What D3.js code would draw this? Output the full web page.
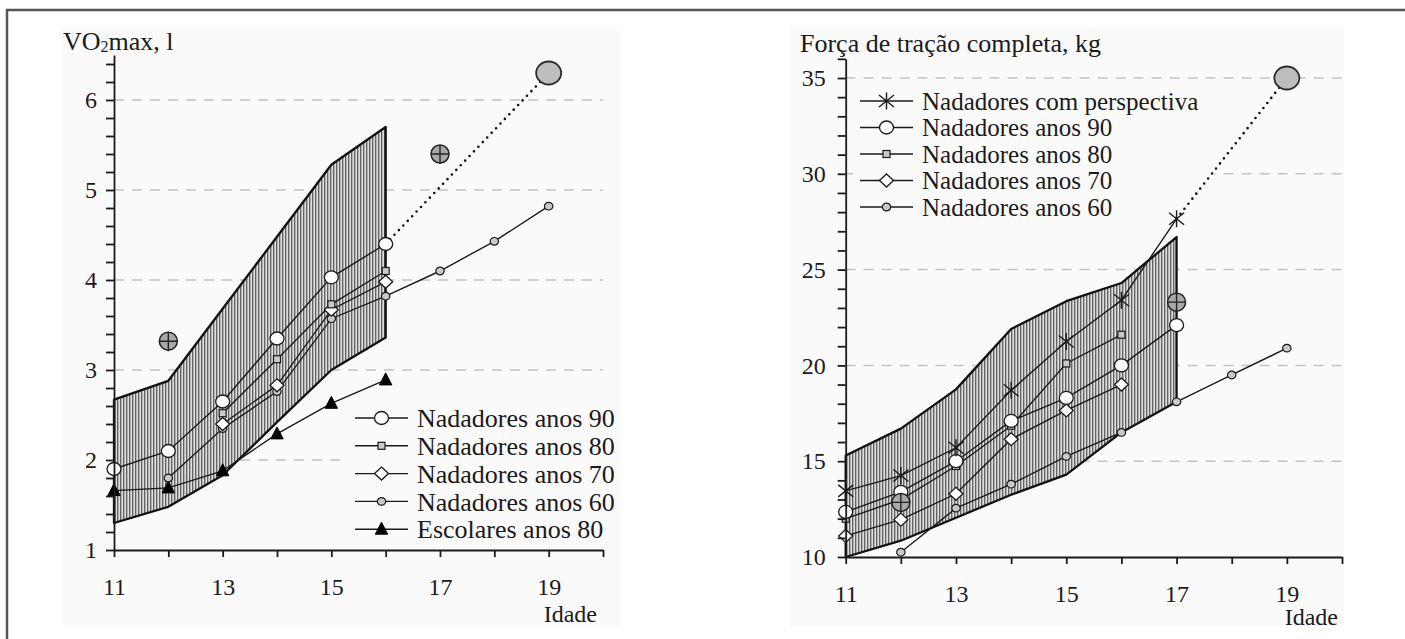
<!DOCTYPE html>
<html>
<head>
<meta charset="utf-8">
<script src="https://cdn.jsdelivr.net/npm/d3@7"></script>
<style>
  body { margin: 0; background: #fff; }
  text { font-family: 'Liberation Serif', 'Times New Roman', serif; fill: #1a1a1a; }
</style>
</head>
<body>
<svg id="chart" width="1405" height="639"></svg>
<script>
// ---- shared ----
const xTicks = [11, 12, 13, 14, 15, 16, 17, 18, 19, 20];
const xTickLabels = [11, 13, 15, 17, 19];

// ---- VO2max panel ----
const vo2TickLabels = [1, 2, 3, 4, 5, 6];
const vo2BandAges = [11, 12, 13, 14, 15, 16];
const vo2BandUpper = [2.67, 2.88, 3.68, 4.48, 5.28, 5.7];
const vo2BandLower = [1.3, 1.48, 1.83, 2.42, 3.0, 3.36];
const vo2Ages90 = [11, 12, 13, 14, 15, 16];
const vo2Nad90 = [1.9, 2.1, 2.65, 3.35, 4.03, 4.4];
const vo2Ages80 = [13, 14, 15, 16];
const vo2Nad80 = [2.52, 3.12, 3.73, 4.1];
const vo2Ages70 = [13, 14, 15, 16];
const vo2Nad70 = [2.4, 2.83, 3.67, 3.98];
const vo2Ages60 = [12, 13, 14, 15, 16, 17, 18, 19];
const vo2Nad60 = [1.8, 2.35, 2.76, 3.57, 3.82, 4.1, 4.43, 4.82];
const vo2AgesEsc = [11, 12, 13, 14, 15, 16];
const vo2Esc80 = [1.66, 1.69, 1.88, 2.29, 2.63, 2.89];
const vo2TargetAges = [16, 19];
const vo2Target = [4.4, 6.3];
const vo2CrossAges = [12, 17];
const vo2Cross = [3.32, 5.4];
const vo2Legend = ['Nadadores anos 90', 'Nadadores anos 80', 'Nadadores anos 70', 'Nadadores anos 60', 'Escolares anos 80'];

// ---- pulling force panel ----
const forceTickLabels = [10, 15, 20, 25, 30, 35];
const forceBandAges = [11, 12, 13, 14, 15, 16, 17];
const forceBandUpper = [15.3, 16.7, 18.75, 21.9, 23.35, 24.3, 26.7];
const forceBandLower = [10.0, 10.85, 12.05, 13.25, 14.3, 16.5, 18.1];
const forceAgesPersp = [11, 12, 13, 14, 15, 16, 17];
const forcePersp = [13.45, 14.25, 15.7, 18.7, 21.25, 23.4, 27.65];
const forceAges90 = [11, 12, 13, 14, 15, 16, 17];
const forceNad90 = [12.35, 13.4, 15.0, 17.1, 18.3, 20.0, 22.1];
const forceAges80 = [11, 12, 13, 14, 15, 16];
const forceNad80 = [12.0, 13.0, 14.75, 16.85, 20.1, 21.6];
const forceAges70 = [11, 12, 13, 14, 15, 16];
const forceNad70 = [11.1, 11.95, 13.3, 16.15, 17.65, 19.0];
const forceAges60 = [12, 13, 14, 15, 16, 17, 18, 19];
const forceNad60 = [10.25, 12.55, 13.8, 15.25, 16.5, 18.1, 19.5, 20.9];
const forceTargetAges = [17, 19];
const forceTarget = [27.65, 35.0];
const forceCrossAges = [12, 17];
const forceCross = [12.85, 23.3];
const forceLegend = ['Nadadores com perspectiva', 'Nadadores anos 90', 'Nadadores anos 80', 'Nadadores anos 70', 'Nadadores anos 60'];

const ink = '#1a1a1a';
const plotBg = '#fafafa';

const svg = d3.select('#chart');

// vertical hatch for the range band
const defs = svg.append('defs');
const hatch = defs.append('pattern')
  .attr('id', 'hatch')
  .attr('width', 3)
  .attr('height', 6)
  .attr('patternUnits', 'userSpaceOnUse');
hatch.append('rect').attr('width', 3).attr('height', 6).attr('fill', '#dedede');
hatch.append('line')
  .attr('x1', 0.7).attr('x2', 0.7).attr('y1', 0).attr('y2', 6)
  .attr('stroke', '#5e5e5e').attr('stroke-width', 1.3);

// outer frame
svg.append('path')
  .attr('d', 'M7,639V10H1405')
  .attr('fill', 'none')
  .attr('stroke', '#555')
  .attr('stroke-width', 2.5);

const zip = (a, b) => a.map((v, i) => [v, b[i]]);

// marker shapes
function drawMarker(sel, type) {
  if (type === 'circle') {
    sel.append('ellipse').attr('rx', 7).attr('ry', 6.5)
      .attr('fill', '#fff').attr('stroke', ink).attr('stroke-width', 1.3);
  } else if (type === 'square') {
    sel.append('rect').attr('x', -3.5).attr('y', -3.5).attr('width', 7).attr('height', 7)
      .attr('fill', '#c9c9c9').attr('stroke', ink).attr('stroke-width', 1.2);
  } else if (type === 'diamond') {
    sel.append('path').attr('d', 'M0,-6.5L7,0L0,6.5L-7,0Z')
      .attr('fill', '#fff').attr('stroke', ink).attr('stroke-width', 1.3);
  } else if (type === 'dot') {
    sel.append('ellipse').attr('rx', 4.2).attr('ry', 3.8)
      .attr('fill', '#c9c9c9').attr('stroke', ink).attr('stroke-width', 1.2);
  } else if (type === 'triangle') {
    sel.append('path').attr('d', 'M0,-7L6.2,5L-6.2,5Z')
      .attr('fill', '#000').attr('stroke', '#000').attr('stroke-width', 1);
  } else if (type === 'star') {
    sel.append('path').attr('d', 'M0,-8.5V8.5M-7.5,-6L7.5,6M-7.5,6L7.5,-6')
      .attr('fill', 'none').attr('stroke', ink).attr('stroke-width', 1.4);
  } else if (type === 'cross') {
    sel.append('circle').attr('r', 9)
      .attr('fill', '#a9a9a9').attr('stroke', '#222').attr('stroke-width', 1.5);
    sel.append('path').attr('d', 'M-9,0H9M0,-9V10')
      .attr('fill', 'none').attr('stroke', '#222').attr('stroke-width', 1.4);
  } else if (type === 'target') {
    sel.append('ellipse').attr('rx', 12.5).attr('ry', 11.5)
      .attr('fill', '#bdbdbd').attr('stroke', '#2a2a2a').attr('stroke-width', 1.8);
  }
}

function drawPanel(p) {
  const g = svg.append('g');
  const x = d3.scaleLinear().domain([11, 20]).range(p.xRange);
  const y = d3.scaleLinear().domain(p.yDomain).range(p.yRange);
  const line = d3.line().x(d => x(d[0])).y(d => y(d[1]));

  // pale plot background
  g.append('rect')
    .attr('x', p.bg[0]).attr('y', p.bg[1])
    .attr('width', p.bg[2]).attr('height', p.bg[3])
    .attr('fill', plotBg);

  // dashed gridlines
  g.selectAll('.grid')
    .data(p.tickLabels.slice(1))
    .join('line')
    .attr('x1', x(11)).attr('x2', x(20))
    .attr('y1', d => y(d)).attr('y2', d => y(d))
    .attr('stroke', '#c2c2c2')
    .attr('stroke-width', 1.5)
    .attr('stroke-dasharray', '10,8');

  // legend box hides gridlines behind it
  g.append('rect')
    .attr('x', p.legendBox[0]).attr('y', p.legendBox[1])
    .attr('width', p.legendBox[2]).attr('height', p.legendBox[3])
    .attr('fill', plotBg);

  // range band
  const bandPts = zip(p.bandAges, p.bandUpper)
    .concat(zip(p.bandAges, p.bandLower).reverse());
  g.append('path')
    .datum(bandPts)
    .attr('d', line.curve(d3.curveLinearClosed))
    .attr('fill', 'url(#hatch)')
    .attr('stroke', '#111')
    .attr('stroke-width', 2.3)
    .attr('stroke-linejoin', 'round');
  line.curve(d3.curveLinear);

  // dotted projection to the target
  g.append('path')
    .datum(zip(p.targetAges, p.target))
    .attr('d', line)
    .attr('fill', 'none')
    .attr('stroke', '#111')
    .attr('stroke-width', 2.6)
    .attr('stroke-linecap', 'round')
    .attr('stroke-dasharray', '0,6.4');

  // series lines then markers
  p.series.forEach(s => {
    g.append('path')
      .datum(zip(s.ages, s.values))
      .attr('d', line)
      .attr('fill', 'none')
      .attr('stroke', ink)
      .attr('stroke-width', 1.4);
  });
  p.series.slice().reverse().forEach(s => {
    g.selectAll(null)
      .data(zip(s.ages, s.values))
      .join('g')
      .attr('transform', d => `translate(${x(d[0])},${y(d[1])})`)
      .call(sel => drawMarker(sel, s.marker));
  });

  g.append('g')
    .attr('transform', `translate(${x(p.targetAges[1])},${y(p.target[1])})`)
    .call(sel => drawMarker(sel, 'target'));

  g.selectAll(null)
    .data(zip(p.crossAges, p.cross))
    .join('g')
    .attr('transform', d => `translate(${x(d[0])},${y(d[1])})`)
    .call(sel => drawMarker(sel, 'cross'));

  // axes
  const yAxis = d3.axisLeft(y)
    .tickValues(p.minorTicks)
    .tickSize(8)
    .tickSizeOuter(0)
    .tickPadding(p.yPad)
    .tickFormat(d => p.tickLabels.some(t => Math.abs(t - d) < 1e-6) ? d : '');
  g.append('g')
    .attr('transform', `translate(${x(11)},0)`)
    .call(yAxis)
    .attr('font-size', 24)
    .attr('color', ink)
    .call(a => a.selectAll('path, line').attr('stroke-width', 1.8));

  const xAxis = d3.axisBottom(x)
    .tickValues(xTicks)
    .tickSize(7)
    .tickSizeOuter(0)
    .tickPadding(21)
    .tickFormat(d => xTickLabels.includes(d) ? d : '');
  g.append('g')
    .attr('transform', `translate(0,${y(p.yDomain[0])})`)
    .call(xAxis)
    .attr('font-size', 24)
    .attr('color', ink)
    .call(a => a.selectAll('path, line').attr('stroke-width', 1.8));

  // axis titles
  p.title(g.append('text').attr('x', p.titlePos[0]).attr('y', p.titlePos[1]).attr('font-size', 26));
  g.append('text')
    .attr('x', p.idadePos[0]).attr('y', p.idadePos[1])
    .attr('text-anchor', 'end')
    .attr('font-size', 24)
    .text('Idade');

  // legend
  const leg = g.selectAll('.leg')
    .data(p.series.map((s, i) => ({ label: p.legend[i], marker: s.marker })))
    .join('g')
    .attr('transform', (d, i) => `translate(${p.legendPos[0]},${p.legendPos[1] + i * p.legendStep})`);
  leg.append('line')
    .attr('x1', 0).attr('x2', 53)
    .attr('stroke', ink).attr('stroke-width', 1.4);
  leg.append('g')
    .attr('transform', 'translate(26.5,0)')
    .each(function (d) { drawMarker(d3.select(this), d.marker); });
  leg.append('text')
    .attr('x', 62)
    .attr('dy', '0.35em')
    .attr('font-size', p.legendFont)
    .text(d => d.label);
}

drawPanel({
  xRange: [114, 603],
  yDomain: [1, 6.5],
  yRange: [550, 55],
  bg: [63, 28, 557, 597],
  tickLabels: vo2TickLabels,
  minorTicks: d3.range(0, 28).map(i => +(1 + i * 0.2).toFixed(1)),
  yPad: 9,
  bandAges: vo2BandAges,
  bandUpper: vo2BandUpper,
  bandLower: vo2BandLower,
  targetAges: vo2TargetAges,
  target: vo2Target,
  crossAges: vo2CrossAges,
  cross: vo2Cross,
  series: [
    { ages: vo2Ages90, values: vo2Nad90, marker: 'circle' },
    { ages: vo2Ages80, values: vo2Nad80, marker: 'square' },
    { ages: vo2Ages70, values: vo2Nad70, marker: 'diamond' },
    { ages: vo2Ages60, values: vo2Nad60, marker: 'dot' },
    { ages: vo2AgesEsc, values: vo2Esc80, marker: 'triangle' }
  ],
  legend: vo2Legend,
  legendFont: 26,
  legendBox: [346, 404, 272, 140],
  legendPos: [355, 418],
  legendStep: 27.8,
  titlePos: [63, 50],
  title: t => {
    t.append('tspan').text('VO');
    t.append('tspan').attr('font-size', 16).attr('dy', 2).text('2');
    t.append('tspan').attr('dy', -2).text('max, l');
  },
  idadePos: [597, 622]
});

drawPanel({
  xRange: [845.7, 1342],
  yDomain: [10, 36],
  yRange: [557, 557 - 26 * 19.16],
  bg: [790, 28, 554, 598],
  tickLabels: forceTickLabels,
  minorTicks: d3.range(10, 37),
  yPad: 12,
  bandAges: forceBandAges,
  bandUpper: forceBandUpper,
  bandLower: forceBandLower,
  targetAges: forceTargetAges,
  target: forceTarget,
  crossAges: forceCrossAges,
  cross: forceCross,
  series: [
    { ages: forceAgesPersp, values: forcePersp, marker: 'star' },
    { ages: forceAges90, values: forceNad90, marker: 'circle' },
    { ages: forceAges80, values: forceNad80, marker: 'square' },
    { ages: forceAges70, values: forceNad70, marker: 'diamond' },
    { ages: forceAges60, values: forceNad60, marker: 'dot' }
  ],
  legend: forceLegend,
  legendFont: 25,
  legendBox: [853, 86, 362, 134],
  legendPos: [860, 101],
  legendStep: 26.5,
  titlePos: [800, 52],
  title: t => t.text('Força de tração completa, kg'),
  idadePos: [1338, 625]
});
</script>
</body>
</html>
